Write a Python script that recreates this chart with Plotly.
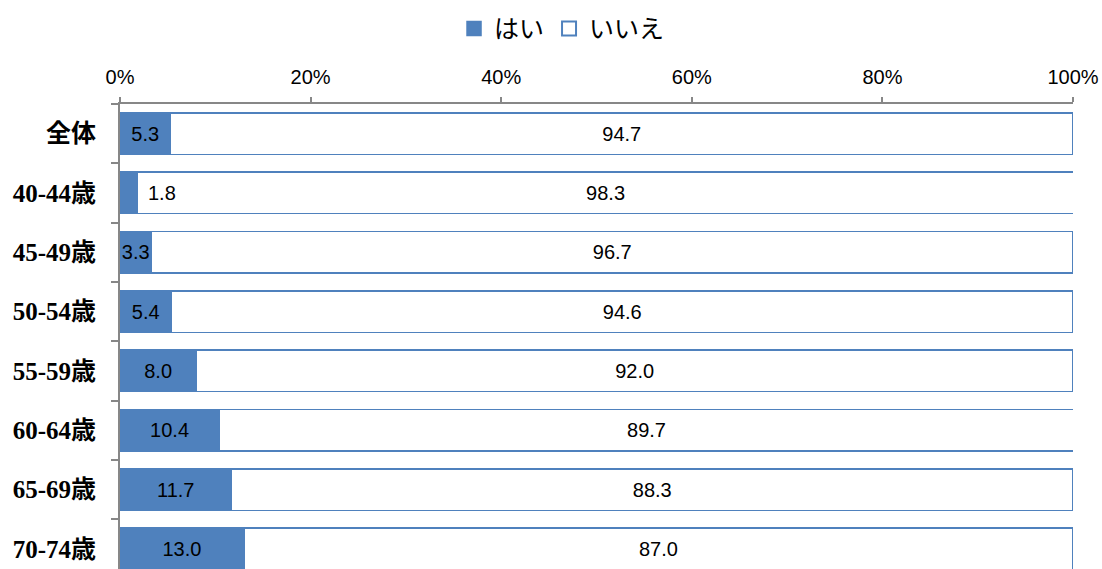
import plotly.graph_objects as go

categories = ["全体", "40-44歳", "45-49歳", "50-54歳", "55-59歳", "60-64歳", "65-69歳", "70-74歳"]
yes_vals = [5.3, 1.8, 3.3, 5.4, 8.0, 10.4, 11.7, 13.0]
no_vals = [94.7, 98.3, 96.7, 94.6, 92.0, 89.7, 88.3, 87.0]
series_names = ["はい", "いいえ"]
x_ticks = [0, 20, 40, 60, 80, 100]
x_tick_labels = ["0%", "20%", "40%", "60%", "80%", "100%"]

BLUE = "#4F81BD"
LABEL_FONT = dict(family="Liberation Sans, Arial, sans-serif", size=20, color="#000000")

small = [v < 2.5 for v in yes_vals]
yes_text = ["" if s else f"{v:.1f}" for v, s in zip(yes_vals, small)]

fig = go.Figure()
fig.add_trace(go.Bar(
    y=categories, x=yes_vals, name=series_names[0], orientation="h", showlegend=False,
    marker=dict(color=BLUE, line=dict(color=BLUE, width=1.5)),
    text=yes_text, textposition="inside", insidetextanchor="middle", textangle=0,
    textfont=LABEL_FONT, constraintext="none", hoverinfo="x+y",
))
fig.add_trace(go.Bar(
    y=categories, x=no_vals, name=series_names[1], orientation="h", showlegend=False,
    marker=dict(color="#FFFFFF", line=dict(color=BLUE, width=1.5)),
    text=[f"{v:.1f}" for v in no_vals], textposition="inside", insidetextanchor="middle",
    textangle=0, textfont=LABEL_FONT, constraintext="none", hoverinfo="x+y",
))
# legend entries with larger square swatches
fig.add_trace(go.Scatter(x=[None], y=[None], mode="markers", name=series_names[0],
                         marker=dict(symbol="square", size=14, color=BLUE,
                                     line=dict(color=BLUE, width=1.5))))
fig.add_trace(go.Scatter(x=[None], y=[None], mode="markers", name=series_names[1],
                         marker=dict(symbol="square", size=14, color="#FFFFFF",
                                     line=dict(color=BLUE, width=2))))

for cat, v, s in zip(categories, yes_vals, small):
    if s:
        fig.add_annotation(x=v, y=cat, xref="x", yref="y", text=f"{v:.1f}",
                           showarrow=False, xanchor="left", xshift=9,
                           font=LABEL_FONT)

fig.update_layout(
    barmode="stack",
    bargap=0.3,
    width=1102, height=569,
    margin=dict(l=120, r=29, t=104, b=0, autoexpand=False),
    paper_bgcolor="#FFFFFF", plot_bgcolor="#FFFFFF",
    showlegend=True,
    legend=dict(
        orientation="h", xref="container", yref="container",
        x=0.51, xanchor="center", y=0.99, yanchor="top",
        font=dict(family="Noto Sans CJK JP, sans-serif", size=25, color="#000000"),
        itemwidth=30, traceorder="normal",
    ),
    xaxis=dict(
        side="top", range=[0, 100], tickvals=x_ticks, ticktext=x_tick_labels,
        showgrid=False, zeroline=False, showline=True, linecolor="#878787", linewidth=2,
        ticks="outside", ticklen=5, tickcolor="#878787", tickwidth=2,
        tickfont=dict(family="Liberation Sans, Arial, sans-serif", size=20, color="#000000"),
        ticklabelstandoff=5, fixedrange=True, automargin=False,
    ),
    yaxis=dict(
        type="category", range=[7.34, -0.5],
        showgrid=False, zeroline=False, showline=True, linecolor="#878787", linewidth=2,
        ticks="outside", ticklen=7, tickcolor="#878787", tickwidth=2, tickson="boundaries",
        tickfont=dict(family="Liberation Serif, Noto Sans CJK JP, serif", size=25, color="#000000",
                      weight="bold"),
        ticklabelstandoff=17, fixedrange=True, automargin=False,
    ),
)

fig.write_html("out.html", config={"displayModeBar": False},
               post_script="document.body.style.margin='0';document.body.style.overflow='hidden';")
